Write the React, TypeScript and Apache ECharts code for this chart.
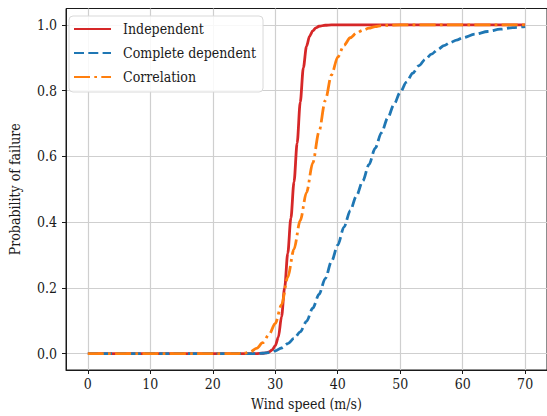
import React, { useEffect, useRef } from "react";
import * as echarts from "echarts";

// Wind speed (m/s) and probability of failure
const independentX = [0, 27, 28, 28.5, 29, 29.5, 30, 30.5, 31, 31.5, 32, 32.5, 33, 33.5, 34, 34.5, 35, 35.5, 36, 36.5, 37, 38, 39, 70];
const independentY = [0, 0, 0.001, 0.002, 0.005, 0.011, 0.024, 0.05, 0.112, 0.2, 0.305, 0.412, 0.522, 0.64, 0.765, 0.87, 0.935, 0.966, 0.982, 0.991, 0.996, 0.999, 1, 1];

const dependentX = [0, 27, 28, 29, 30, 31, 32, 33, 34, 35, 36, 37, 38, 39, 40, 41, 42, 43, 44, 45, 46, 47, 48, 49, 50, 51, 52, 53, 54, 55, 56, 57, 58, 59, 60, 62, 64, 66, 68, 70];
const dependentY = [0, 0, 0.001, 0.003, 0.008, 0.017, 0.03, 0.046, 0.066, 0.098, 0.138, 0.18, 0.228, 0.28, 0.33, 0.385, 0.435, 0.48, 0.525, 0.575, 0.625, 0.672, 0.717, 0.758, 0.795, 0.826, 0.853, 0.876, 0.895, 0.911, 0.925, 0.937, 0.946, 0.954, 0.961, 0.972, 0.98, 0.987, 0.992, 0.995];

const correlationX = [0, 24, 25, 26, 27, 28, 29, 30, 31, 32, 33, 34, 35, 36, 37, 38, 39, 40, 41, 42, 43, 44, 45, 46, 47, 48, 50, 70];
const correlationY = [0, 0, 0.001, 0.005, 0.016, 0.033, 0.058, 0.092, 0.148, 0.232, 0.318, 0.405, 0.49, 0.58, 0.675, 0.77, 0.848, 0.902, 0.938, 0.961, 0.975, 0.984, 0.99, 0.995, 0.998, 0.999, 1, 1];

const seriesNames = ["Independent", "Complete dependent", "Correlation"];
const xTicks = [0, 10, 20, 30, 40, 50, 60, 70];
const yTicks = [0, 0.2, 0.4, 0.6, 0.8, 1.0];

const FONT = "DejaVu Serif Condensed";
const FS = 14;

function pairs(xs: number[], ys: number[]) {
  return xs.map((x, i) => [x, ys[i]]);
}

export default function App() {
  const ref = useRef<HTMLDivElement>(null);
  useEffect(() => {
    if (!ref.current) return;
    const chart = echarts.init(ref.current, null, { renderer: "svg" });
    const lw = 2.8;
    chart.setOption({
      animation: false,
      backgroundColor: "#ffffff",
      textStyle: { fontFamily: FONT },
      grid: {
        left: 61,
        top: 8.5,
        right: -6,
        bottom: 43.3,
        show: true,
        borderColor: "#1a1a1a",
        borderWidth: 1,
        backgroundColor: "transparent",
      },
      legend: {
        orient: "vertical",
        left: 69,
        top: 16,
        padding: [6, 7, 8, 4],
        itemWidth: 37,
        itemHeight: 14,
        itemGap: 10,
        borderColor: "#d9d9d9",
        borderWidth: 1,
        borderRadius: 4,
        backgroundColor: "rgba(255,255,255,0.85)",
        itemStyle: { opacity: 0 },
        textStyle: { fontFamily: FONT, fontSize: FS, color: "#1a1a1a", padding: [0, 0, 0, 7] },
        data: seriesNames,
      },
      xAxis: {
        type: "value",
        min: -3.5,
        max: 73.5,
        name: "Wind speed (m/s)",
        nameLocation: "middle",
        nameGap: 27,
        nameTextStyle: { fontFamily: FONT, fontSize: FS, color: "#1a1a1a" },
        axisLine: { show: true, onZero: false, lineStyle: { color: "#1a1a1a", width: 1 } },
        axisTick: { show: true, length: 4, customValues: xTicks, lineStyle: { color: "#1a1a1a" } },
        axisLabel: { customValues: xTicks, fontFamily: FONT, fontSize: FS, color: "#1a1a1a", margin: 7 },
        splitLine: { show: true, lineStyle: { color: "#cfcfcf", width: 1.2 } },
      },
      yAxis: {
        type: "value",
        min: -0.05,
        max: 1.05,
        name: "Probability of failure",
        nameLocation: "middle",
        nameGap: 44,
        nameTextStyle: { fontFamily: FONT, fontSize: FS, color: "#1a1a1a" },
        axisLine: { show: true, onZero: false, lineStyle: { color: "#1a1a1a", width: 1 } },
        axisTick: { show: true, length: 4, customValues: yTicks, lineStyle: { color: "#1a1a1a" } },
        axisLabel: {
          customValues: yTicks,
          fontFamily: FONT,
          fontSize: FS,
          color: "#1a1a1a",
          margin: 9,
          formatter: (v: number) => v.toFixed(1),
        },
        splitLine: { show: true, lineStyle: { color: "#cfcfcf", width: 1.2 } },
      },
      series: [
        {
          name: seriesNames[0],
          type: "line",
          symbol: "none",
          smooth: 0.3,
          smoothMonotone: "x",
          data: pairs(independentX, independentY),
          lineStyle: { color: "#d62728", width: lw, type: "solid" },
          itemStyle: { color: "#d62728" },
          z: 2,
        },
        {
          name: seriesNames[1],
          type: "line",
          symbol: "none",
          smooth: 0.3,
          smoothMonotone: "x",
          data: pairs(dependentX, dependentY),
          lineStyle: { color: "#1f77b4", width: lw, type: [10, 4.3] },
          itemStyle: { color: "#1f77b4" },
          z: 3,
        },
        {
          name: seriesNames[2],
          type: "line",
          symbol: "none",
          smooth: 0.3,
          smoothMonotone: "x",
          data: pairs(correlationX, correlationY),
          lineStyle: { color: "#ff7f0e", width: lw, type: [16, 4.3, 2.7, 4.3] },
          itemStyle: { color: "#ff7f0e" },
          z: 4,
        },
      ],
    });
    return () => chart.dispose();
  }, []);
  return (
    <div
      ref={ref}
      style={{ position: "fixed", left: 0, top: 0, width: 547, height: 416, background: "#fff" }}
    />
  );
}
